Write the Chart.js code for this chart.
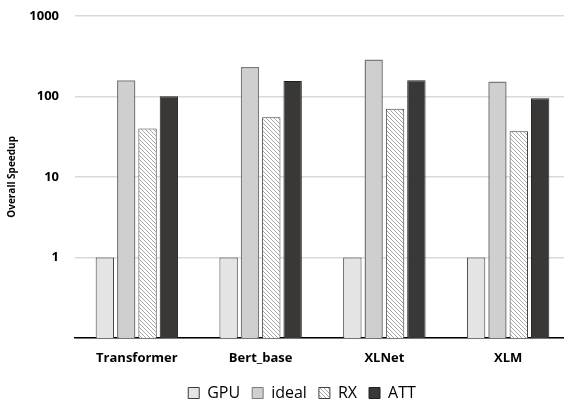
<!DOCTYPE html>
<html>
<head>
<meta charset="utf-8">
<script src="https://cdn.jsdelivr.net/npm/chart.js@4/dist/chart.umd.min.js"></script>
<style>
html,body{margin:0;padding:0;background:#fff;overflow:hidden;width:564px;height:406px;}
#wrap{width:570px;height:419px;position:relative;margin-top:-8px;}
</style>
</head>
<body>
<div id="wrap"><canvas id="c"></canvas></div>
<script>
const categories = ["Transformer", "Bert_base", "XLNet", "XLM"];
const seriesNames = ["GPU", "ideal", "RX", "ATT"];
const gpuValues = [1, 1, 1, 1];
const idealValues = [158, 231, 286, 153];
const rxValues = [40, 55, 70, 37];
const attValues = [100, 155, 158, 95];
const yTicks = [0.1, 1, 10, 100, 1000];

function hatch() {
  const s = 4;
  const cv = document.createElement('canvas');
  cv.width = s; cv.height = s;
  const g = cv.getContext('2d');
  g.fillStyle = '#ffffff';
  g.fillRect(0, 0, s, s);
  g.strokeStyle = '#a8a8a8';
  g.lineWidth = 1;
  g.beginPath();
  g.moveTo(-1, -1); g.lineTo(s + 1, s + 1);
  g.moveTo(-1, s - 1); g.lineTo(1, s + 1);
  g.moveTo(s - 1, -1); g.lineTo(s + 1, 1);
  g.stroke();
  return g.createPattern(cv, 'repeat');
}
const rxPattern = hatch();

const F = "'Open Sans', Lato, sans-serif";

const shiftLegend = {
  id: 'shiftLegend',
  afterLayout(chart) {
    if (chart.legend) { chart.legend.left += 17; chart.legend.right += 17; }
  }
};

new Chart(document.getElementById('c'), {
  type: 'bar',
  data: {
    labels: categories,
    datasets: [
      {label: seriesNames[0], data: gpuValues, backgroundColor: '#e4e4e4', borderColor: '#3c3c3c', borderWidth: 1},
      {label: seriesNames[1], data: idealValues, backgroundColor: '#d0cfd0', borderColor: '#7a7a7a', borderWidth: 1.5},
      {label: seriesNames[2], data: rxValues, backgroundColor: rxPattern, borderColor: '#404040', borderWidth: 1},
      {label: seriesNames[3], data: attValues, backgroundColor: '#393836', borderColor: '#202020', borderWidth: 1}
    ]
  },
  plugins: [shiftLegend],
  options: {
    responsive: true,
    maintainAspectRatio: false,
    animation: false,
    layout: {padding: {top: 10, left: 0, right: 0, bottom: 0}},
    datasets: {bar: {categoryPercentage: 0.69, barPercentage: 0.86}},
    scales: {
      x: {
        afterFit: (s) => { s.height = 35; },
        grid: {display: false, drawTicks: false},
        border: {display: true, color: '#000000', width: 1.5},
        ticks: {color: '#000', font: {family: F, size: 13, weight: 'bold'}, padding: 12}
      },
      y: {
        type: 'logarithmic',
        min: 0.1,
        max: 1000,
        afterBuildTicks: (s) => { s.ticks = yTicks.map(v => ({value: v})); },
        afterFit: (s) => { s.width = 75; },
        grid: {color: '#d9d9d9', lineWidth: 1.5, drawTicks: false},
        border: {display: false},
        ticks: {
          color: '#000',
          font: {family: F, size: 13, weight: 'bold'},
          padding: 16,
          callback: (v) => v < 1 ? '' : String(v)
        },
        title: {display: true, text: 'Overall Speedup', color: '#000', font: {family: F, size: 10, weight: 'bold'}, padding: {top: 6, bottom: 0}}
      }
    },
    plugins: {
      legend: {
        position: 'bottom',
        labels: {
          color: '#000',
          font: {family: F, size: 16},
          boxWidth: 11,
          boxHeight: 11,
          padding: 12,
          generateLabels: (chart) => chart.data.datasets.map((d, i) => ({
            text: d.label,
            fillStyle: d.backgroundColor,
            strokeStyle: d.borderColor,
            lineWidth: 1,
            datasetIndex: i,
            hidden: false
          }))
        }
      },
      tooltip: {enabled: false}
    }
  }
});
</script>
</body>
</html>
